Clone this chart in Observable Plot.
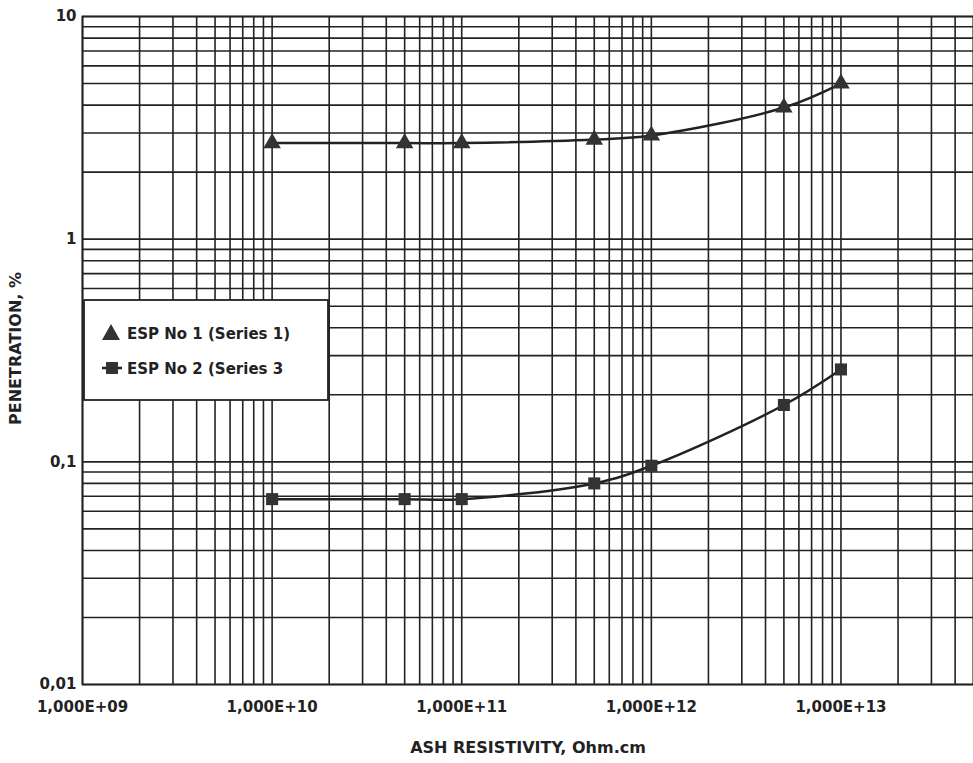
<!DOCTYPE html>
<html>
<head>
<meta charset="utf-8">
<script src="https://cdn.jsdelivr.net/npm/d3@7"></script>
<script src="https://cdn.jsdelivr.net/npm/@observablehq/plot@0.6"></script>
<style>
  html, body { margin: 0; padding: 0; background: #fff; }
  #wrap { position: relative; width: 973px; height: 763px; }
  #legend { position: absolute; left: 83px; top: 299px; }
  text { font-family: "DejaVu Sans", Arial, Helvetica, sans-serif; }
</style>
</head>
<body>
<div id="wrap"></div>
<script>
// ---- data ----
const resistivity = [1e10, 5e10, 1e11, 5e11, 1e12, 5e12, 1e13];
const esp1 = [2.7, 2.7, 2.7, 2.8, 2.92, 3.9, 5.0];
const esp2 = [0.068, 0.068, 0.068, 0.080, 0.096, 0.18, 0.26];
const seriesNames = ["ESP No 1 (Series 1)", "ESP No 2 (Series 3"];
const xTickValues = [1e9, 1e10, 1e11, 1e12, 1e13];
const xTickLabels = ["1,000E+09", "1,000E+10", "1,000E+11", "1,000E+12", "1,000E+13"];
const yTickValues = [0.01, 0.1, 1, 10];
const yTickLabels = ["0,01", "0,1", "1", "10"];
const xTitle = "ASH RESISTIVITY, Ohm.cm";
const yTitle = "PENETRATION, %";

// grid positions (log-paper style: 1..9 per decade)
const mult = [1, 2, 3, 4, 5, 6, 7, 8, 9];
const xGrid = [];
[1e9, 1e10, 1e11, 1e12].forEach(d => mult.forEach(m => xGrid.push(d * m)));
[1, 2, 3, 4, 5].forEach(m => xGrid.push(1e13 * m));
const yGrid = [];
[0.01, 0.1, 1].forEach(d => mult.forEach(m => yGrid.push(d * m)));
yGrid.push(10);

const s1 = resistivity.map((x, i) => ({x, y: esp1[i]}));
const s2 = resistivity.map((x, i) => ({x, y: esp2[i]}));

const ink = "#222";
const font = "DejaVu Sans, Arial, Helvetica, sans-serif";

const chart = Plot.plot({
  width: 973,
  height: 763,
  marginLeft: 82,
  marginRight: 0,
  marginTop: 16,
  marginBottom: 79,
  style: {background: "#fff", color: ink, fontFamily: font},
  x: {type: "log", domain: [1e9, 5e13]},
  y: {type: "log", domain: [0.01, 10]},
  marks: [
    Plot.ruleX(xGrid, {stroke: ink, strokeWidth: 1.6}),
    Plot.ruleY(yGrid, {stroke: ink, strokeWidth: 1.6}),
    Plot.frame({stroke: ink, strokeWidth: 1.8}),
    Plot.axisX({
      ticks: xTickValues,
      tickFormat: d => xTickLabels[xTickValues.indexOf(d)],
      tickSize: 0, tickPadding: 17,
      fontSize: 15, fontWeight: "bold", fill: ink,
      label: null
    }),
    Plot.axisY({
      ticks: yTickValues,
      tickFormat: d => yTickLabels[yTickValues.indexOf(d)],
      tickSize: 0, tickPadding: 6,
      fontSize: 15, fontWeight: "bold", fill: ink,
      label: null
    }),
    Plot.text([xTitle], {
      frameAnchor: "bottom", dy: 68, fontSize: 16, fontWeight: "bold", fill: ink
    }),
    Plot.text([yTitle], {
      frameAnchor: "left", dx: -67, dy: -2, rotate: -90, textAnchor: "middle",
      lineAnchor: "middle", fontSize: 16, fontWeight: "bold", fill: ink
    }),
    Plot.line(s1, {x: "x", y: "y", stroke: ink, strokeWidth: 2.5, curve: "catmull-rom"}),
    Plot.line(s2, {x: "x", y: "y", stroke: ink, strokeWidth: 2.5, curve: "catmull-rom"}),
    Plot.dot(s1, {x: "x", y: "y", symbol: "triangle", r: 6.5, fill: "#333", stroke: "none"}),
    Plot.dot(s2, {x: "x", y: "y", symbol: "square", r: 6.8, fill: "#333", stroke: "none"})
  ]
});
const wrap = document.getElementById("wrap");
wrap.appendChild(chart);

// legend box overlay
const ns = "http://www.w3.org/2000/svg";
const lg = document.createElementNS(ns, "svg");
lg.setAttribute("id", "legend");
lg.setAttribute("width", 248);
lg.setAttribute("height", 104);
lg.innerHTML = `
  <rect x="1" y="1" width="244" height="100" fill="#fff" stroke="${ink}" stroke-width="1.8"/>
  <path d="M19,41 L28,25 L37,41 Z" fill="#333"/>
  <line x1="19" y1="69" x2="39" y2="69" stroke="${ink}" stroke-width="2.5"/>
  <rect x="23" y="63" width="12" height="12" fill="#333"/>
  <text x="44" y="35" dominant-baseline="middle" font-size="15" font-weight="bold" fill="${ink}">${seriesNames[0]}</text>
  <text x="44" y="70" dominant-baseline="middle" font-size="15" font-weight="bold" fill="${ink}">${seriesNames[1]}</text>
`;
wrap.appendChild(lg);
</script>
</body>
</html>
